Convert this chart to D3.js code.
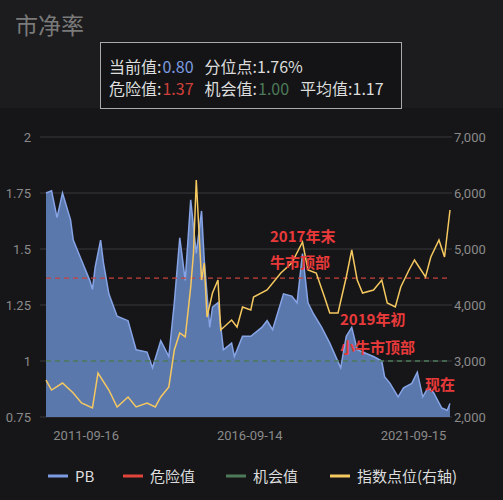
<!DOCTYPE html>
<html><head><meta charset="utf-8">
<script src="https://cdn.jsdelivr.net/npm/d3@7"></script>
<style>body{margin:0;background:#161618;font-family:"Noto Sans CJK SC","Noto Sans",sans-serif}</style>
</head><body><svg id="c" width="503" height="500"></svg>
<script>
const pbDates=["2010-07","2010-09","2010-11","2011-01","2011-04","2011-05","2011-08","2011-11","2011-12","2012-01","2012-03","2012-04","2012-06","2012-09","2013-01","2013-04","2013-08","2013-10","2014-01","2014-04","2014-06","2014-08","2014-10","2014-12","2015-02","2015-04","2015-05","2015-07","2015-08","2015-10","2015-12","2016-03","2016-04","2016-07","2016-10","2017-02","2017-04","2017-06","2017-09","2017-10","2018-01","2018-03","2018-05","2018-07","2018-09","2018-12","2019-03","2019-07","2019-09","2019-11","2020-01","2020-03","2020-07","2020-10","2020-11","2021-01","2021-04","2021-06","2021-09","2021-11","2022-01","2022-03","2022-05","2022-08","2022-10","2022-11"];
const pbValues=[1.75,1.76,1.64,1.75,1.63,1.54,1.45,1.36,1.32,1.42,1.54,1.44,1.30,1.20,1.18,1.05,1.04,0.97,1.09,1.02,1.26,1.55,1.36,1.72,1.48,1.67,1.45,1.15,1.24,1.26,1.05,1.08,1.02,1.11,1.11,1.15,1.18,1.14,1.26,1.30,1.29,1.26,1.48,1.26,1.21,1.15,1.08,0.97,1.11,1.15,1.05,1.04,1.02,1.00,0.93,0.90,0.84,0.88,0.90,0.95,0.84,0.88,0.86,0.79,0.78,0.81];
const idxDates=["2010-07","2010-09","2011-01","2011-05","2011-08","2011-12","2012-02","2012-06","2012-09","2013-01","2013-04","2013-08","2013-11","2014-01","2014-04","2014-06","2014-08","2014-10","2014-12","2015-01","2015-02","2015-04","2015-05","2015-06","2015-08","2015-10","2015-11","2016-03","2016-05","2016-07","2016-10","2016-11","2017-04","2017-09","2018-01","2018-05","2018-07","2018-10","2019-01","2019-03","2019-06","2019-09","2019-11","2020-01","2020-03","2020-07","2020-10","2020-12","2021-03","2021-05","2021-08","2021-10","2022-02","2022-04","2022-07","2022-09","2022-11"];
const idxValues=[2660,2482,2607,2429,2250,2161,2786,2482,2179,2357,2179,2250,2179,2357,2536,3196,3500,3429,4321,4929,6232,4446,4750,3786,4214,4446,3554,3732,3607,3964,3911,4143,4268,4571,4750,5125,4625,4571,4143,3857,3857,4500,4982,4446,4214,4268,4446,4036,3964,4321,4625,4804,4500,4857,5161,4857,5696];
const xTickDates=["2011-09-16","2016-09-14","2021-09-15"];
const leftTicks=[0.75,1,1.25,1.5,1.75,2];
const rightTicks=[2000,3000,4000,5000,6000,7000];
const dangerValue=1.37, chanceValue=1.00;
const legendItems=[["PB","#7d9be0"],["危险值","#e0443a"],["机会值","#4e7a5a"],["指数点位(右轴)","#f5c860"]];

const svg=d3.select("#c");
const pm=d3.timeParse("%Y-%m"), pd=d3.timeParse("%Y-%m-%d");
svg.append("rect").attr("width",503).attr("height",108).attr("fill","#1c1c1e");
svg.append("text").attr("x",15).attr("y",34).attr("fill","#7a7a7a").attr("font-size",23).text("市净率");
svg.append("rect").attr("x",100.5).attr("y",42.5).attr("width",301).attr("height",66).attr("fill","#141416").attr("stroke","#aaa");
const info=[[["当前值:","#ddd",0],["0.80","#7d9be0",0],["分位点:1.76%","#ddd",10]],[["危险值:","#ddd",0],["1.37","#d0403a",0],["机会值:","#ddd",10],["1.00","#4e7a5a",0],["平均值:1.17","#ddd",10]]];
info.forEach((line,i)=>{let cx=109;line.forEach(p=>{cx+=p[2];const t=svg.append("text").attr("x",cx).attr("y",73+i*22).attr("font-size",16).attr("fill",p[1]).text(p[0]);cx+=t.node().getComputedTextLength()+1;});});

const x=d3.scaleTime().domain([pm("2010-07"),pm("2022-11")]).range([46,450]);
const y=d3.scaleLinear().domain([0.75,2]).range([417,137]);
const y2=d3.scaleLinear().domain([2000,7000]).range([417,137]);
leftTicks.forEach(v=>{svg.append("line").attr("x1",40).attr("x2",452).attr("y1",y(v)).attr("y2",y(v)).attr("stroke","#38383a");});
const la=svg.append("g").attr("transform","translate(34,0)").call(d3.axisLeft(y).tickValues(leftTicks).tickFormat(d=>String(d)).tickSize(0));
const ra=svg.append("g").attr("transform","translate(455,0)").call(d3.axisRight(y2).tickValues(rightTicks).tickFormat(d3.format(",")).tickSize(0));
const ba=svg.append("g").attr("transform","translate(0,425)").call(d3.axisBottom(x).tickValues(xTickDates.map(pd)).tickFormat(d3.timeFormat("%Y-%m-%d")).tickSize(0));
[la,ra,ba].forEach(a=>{a.select(".domain").remove();a.selectAll("text").attr("fill","#8a8a8a").attr("font-size",13).attr("font-family","Roboto,sans-serif");});
ra.selectAll("text").attr("dx",-4);
ba.selectAll("text").attr("dy",12);

const pb=pbDates.map((d,i)=>({d:pm(d),v:pbValues[i]}));
svg.append("path").datum(pb).attr("fill","#5b78ad").attr("d",d3.area().x(d=>x(d.d)).y0(417).y1(d=>y(d.v)));
svg.append("path").datum(pb).attr("fill","none").attr("stroke","#86a4e6").attr("stroke-width",1.5).attr("d",d3.line().x(d=>x(d.d)).y(d=>y(d.v)));
svg.append("line").attr("x1",46).attr("x2",450).attr("y1",y(dangerValue)).attr("y2",y(dangerValue)).attr("stroke","#c8423a").attr("stroke-width",1.3).attr("stroke-dasharray","5,4");
svg.append("line").attr("x1",46).attr("x2",450).attr("y1",y(chanceValue)).attr("y2",y(chanceValue)).attr("stroke","#4e7a5a").attr("stroke-width",1.3).attr("stroke-dasharray","5,4");
const idx=idxDates.map((d,i)=>({d:pm(d),v:idxValues[i]}));
svg.append("path").datum(idx).attr("fill","none").attr("stroke","#f5c860").attr("stroke-width",1.5).attr("d",d3.line().x(d=>x(d.d)).y(d=>y2(d.v)));

const notes=[["2017年末",270,242],["牛市顶部",270,268],["2019年初",340,325],["小牛市顶部",340,353],["现在",425,390]];
notes.forEach(n=>svg.append("text").attr("x",n[1]).attr("y",n[2]).attr("fill","#e83a3a").attr("font-size",15).attr("font-weight","bold").text(n[0]));

const lx=[48,123,226,330];
legendItems.forEach((it,i)=>{svg.append("line").attr("x1",lx[i]).attr("x2",lx[i]+20).attr("y1",476).attr("y2",476).attr("stroke",it[1]).attr("stroke-width",3);
svg.append("text").attr("x",lx[i]+27).attr("y",482).attr("fill","#ddd").attr("font-size",15).text(it[0]);});
</script></body></html>
